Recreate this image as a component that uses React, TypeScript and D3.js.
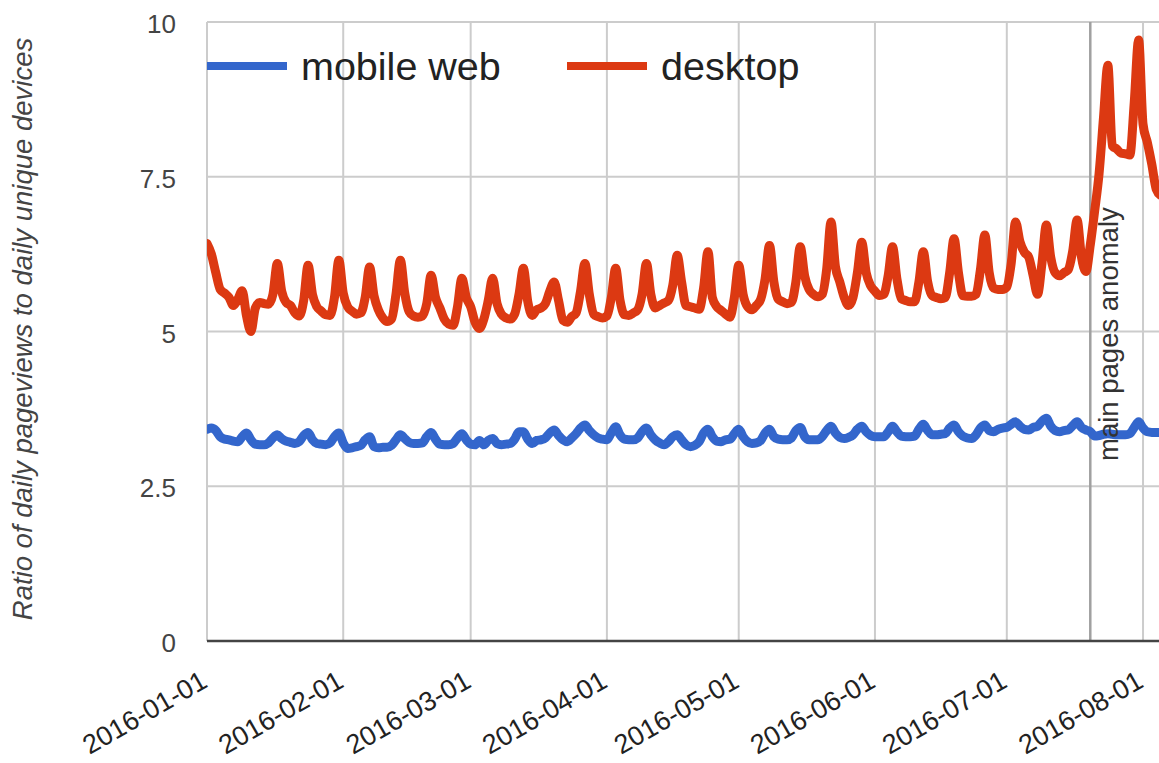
import React from "react";
import * as d3 from "d3";

// daily ratio of pageviews to unique devices, 2016-01-01 .. 2016-08-05
const startDay = Date.UTC(2016, 0, 1);

const mobileWeb = [
  3.42, 3.44, 3.40, 3.30, 3.26, 3.25, 3.23, 3.22, 3.30, 3.36, 3.25, 3.18, 3.17, 3.17,
  3.20, 3.28, 3.33, 3.27, 3.23, 3.21, 3.19, 3.22, 3.32, 3.37, 3.25, 3.19, 3.18, 3.17,
  3.20, 3.30, 3.36, 3.20, 3.11, 3.12, 3.14, 3.16, 3.25, 3.30, 3.14, 3.12, 3.13, 3.13,
  3.16, 3.25, 3.33, 3.27, 3.21, 3.19, 3.19, 3.20, 3.30, 3.37, 3.26, 3.18, 3.17, 3.17,
  3.19, 3.28, 3.35, 3.25, 3.18, 3.17, 3.24, 3.17, 3.24, 3.27, 3.19, 3.17, 3.18, 3.19,
  3.26, 3.38, 3.38, 3.26, 3.19, 3.24, 3.25, 3.28, 3.36, 3.41, 3.32, 3.25, 3.22, 3.28,
  3.35, 3.44, 3.49, 3.40, 3.33, 3.28, 3.26, 3.25, 3.36, 3.46, 3.33, 3.26, 3.25, 3.25,
  3.28, 3.38, 3.44, 3.33, 3.25, 3.20, 3.17, 3.22, 3.30, 3.33, 3.25, 3.17, 3.14, 3.16,
  3.22, 3.36, 3.42, 3.30, 3.23, 3.22, 3.25, 3.26, 3.35, 3.42, 3.30, 3.22, 3.19, 3.20,
  3.24, 3.36, 3.42, 3.30, 3.26, 3.25, 3.25, 3.28, 3.40, 3.45, 3.30, 3.25, 3.25, 3.25,
  3.30, 3.40, 3.47, 3.36, 3.29, 3.27, 3.29, 3.33, 3.42, 3.47, 3.38, 3.32, 3.30, 3.30,
  3.30, 3.38, 3.47, 3.38, 3.31, 3.30, 3.30, 3.31, 3.42, 3.50, 3.40, 3.33, 3.33, 3.34,
  3.35, 3.44, 3.49, 3.38, 3.31, 3.28, 3.27, 3.33, 3.44, 3.49, 3.40, 3.38, 3.42, 3.44,
  3.45, 3.50, 3.54, 3.47, 3.42, 3.41, 3.45, 3.47, 3.55, 3.60, 3.47, 3.40, 3.38, 3.40,
  3.41, 3.48, 3.54, 3.45, 3.41, 3.38, 3.31, 3.32, 3.34, 3.35, 3.34, 3.33, 3.33, 3.33,
  3.35, 3.45, 3.54, 3.44, 3.38, 3.37, 3.37, 3.37,
];

const desktop = [
  6.42, 6.25, 5.95, 5.68, 5.62, 5.55, 5.42, 5.52, 5.66, 5.25, 5.00, 5.38, 5.47, 5.45,
  5.44, 5.60, 6.10, 5.65, 5.47, 5.42, 5.30, 5.25, 5.50, 6.07, 5.60, 5.40, 5.33, 5.27,
  5.26, 5.55, 6.15, 5.62, 5.40, 5.33, 5.28, 5.30, 5.55, 6.04, 5.58, 5.35, 5.22, 5.16,
  5.20, 5.60, 6.15, 5.62, 5.32, 5.25, 5.23, 5.25, 5.45, 5.91, 5.55, 5.38, 5.20, 5.12,
  5.10, 5.40, 5.86, 5.55, 5.40, 5.15, 5.05, 5.20, 5.50, 5.86, 5.45, 5.28, 5.22, 5.20,
  5.28, 5.60, 6.02, 5.48, 5.26, 5.35, 5.38, 5.45, 5.65, 5.80, 5.50, 5.18, 5.15, 5.24,
  5.30, 5.65, 6.10, 5.60, 5.28, 5.24, 5.22, 5.25, 5.55, 6.02, 5.50, 5.27, 5.26, 5.30,
  5.35, 5.60, 6.10, 5.60, 5.38, 5.42, 5.46, 5.50, 5.75, 6.23, 5.80, 5.42, 5.40, 5.38,
  5.36, 5.70, 6.29, 5.55, 5.40, 5.34, 5.28, 5.23, 5.55, 6.07, 5.60, 5.40, 5.35, 5.42,
  5.52, 5.85, 6.39, 5.80, 5.52, 5.48, 5.45, 5.47, 5.80, 6.37, 5.90, 5.68, 5.60, 5.56,
  5.60, 6.00, 6.77, 6.05, 5.80, 5.55, 5.42, 5.55, 5.95, 6.44, 5.95, 5.74, 5.65, 5.58,
  5.60, 5.90, 6.37, 5.85, 5.53, 5.50, 5.48, 5.48, 5.80, 6.29, 5.80, 5.58, 5.55, 5.53,
  5.55, 5.95, 6.50, 5.95, 5.58, 5.57, 5.57, 5.60, 6.00, 6.56, 5.95, 5.70, 5.68, 5.68,
  5.72, 6.10, 6.77, 6.45, 6.28, 6.20, 5.90, 5.60, 6.10, 6.72, 6.20, 5.95, 5.90, 5.95,
  6.00, 6.30, 6.80, 6.20, 5.97, 6.40, 6.95, 7.55, 8.45, 9.30, 8.00, 7.95, 7.88, 7.87,
  7.85, 8.70, 9.71, 8.35, 8.05, 7.70, 7.30, 7.20,
];

const yTicks = [0, 2.5, 5, 7.5, 10];
const monthTicks = [
  "2016-01-01", "2016-02-01", "2016-03-01", "2016-04-01",
  "2016-05-01", "2016-06-01", "2016-07-01", "2016-08-01",
];
const seriesNames = ["mobile web", "desktop"];
const seriesColors = ["#3366cc", "#dc3912"];
const annotationDate = "2016-07-20";
const annotationText = "main pages anomaly";
const yTitle = "Ratio of daily pageviews to daily unique devices";

const W = 1159;
const H = 763;
const font = "'Liberation Sans', Arial, sans-serif";

const parse = (s: string) => new Date(s + "T00:00:00Z");
const dayDate = (i: number) => new Date(startDay + i * 86400000);

export default function App() {
  const x = d3
    .scaleUtc()
    .domain([new Date(startDay), parse("2016-08-05")])
    .range([207, 1160.6]);
  const y = d3.scaleLinear().domain([0, 10]).range([641, 22]);

  const line = d3
    .line<number>()
    .x((_, i) => x(dayDate(i)))
    .y((d) => y(d))
    .curve(d3.curveMonotoneX);

  const series = [mobileWeb, desktop];
  const annX = x(parse(annotationDate));

  return (
    <svg
      width={W}
      height={H}
      style={{ position: "absolute", left: 0, top: 0, background: "#fff" }}
      fontFamily={font}
    >
      <defs>
        <clipPath id="plot">
          <rect x={207} y={0} width={W - 207} height={645} />
        </clipPath>
      </defs>
      <rect width={W} height={H} fill="#fff" />

      {/* grid */}
      {yTicks.map((t) => (
        <line key={"h" + t} x1={207} x2={W} y1={y(t)} y2={y(t)} stroke="#cccccc" strokeWidth={2} />
      ))}
      {monthTicks.map((m) => (
        <line key={"v" + m} x1={x(parse(m))} x2={x(parse(m))} y1={y(10)} y2={y(0)} stroke="#cccccc" strokeWidth={2} />
      ))}

      {/* annotation line */}
      <line x1={annX} x2={annX} y1={y(10)} y2={y(0)} stroke="#a0a0a0" strokeWidth={2.5} />

      {/* series */}
      <g clipPath="url(#plot)">
        {series.map((s, k) => (
          <path
            key={seriesNames[k]}
            d={line(s) ?? ""}
            fill="none"
            stroke={seriesColors[k]}
            strokeWidth={9}
            strokeLinejoin="round"
            strokeLinecap="round"
          />
        ))}
      </g>

      {/* baseline */}
      <line x1={207} x2={W} y1={y(0)} y2={y(0)} stroke="#444444" strokeWidth={2.5} />

      {/* annotation text */}
      <text
        transform={`translate(1118, 461) rotate(-90)`}
        fontSize={27.5}
        fill="#333333"
      >
        {annotationText}
      </text>

      {/* y tick labels */}
      {yTicks.map((t) => (
        <text key={"yl" + t} x={176} y={y(t) + 11} textAnchor="end" fontSize={26} fill="#444444">
          {String(t)}
        </text>
      ))}

      {/* x tick labels */}
      {monthTicks.map((m) => (
        <text
          key={"xl" + m}
          transform={`translate(${x(parse(m)) + 2}, 686) rotate(-30)`}
          textAnchor="end"
          fontSize={27}
          fill="#222222"
        >
          {m}
        </text>
      ))}

      {/* y title */}
      <text
        transform={`translate(32, 329) rotate(-90)`}
        textAnchor="middle"
        fontSize={27.5}
        fontStyle="italic"
        fill="#444444"
      >
        {yTitle}
      </text>

      {/* legend */}
      {seriesNames.map((name, k) => {
        const lx = k === 0 ? 207 : 567;
        return (
          <g key={"lg" + name}>
            <line x1={lx} x2={lx + 80} y1={66} y2={66} stroke={seriesColors[k]} strokeWidth={8} />
            <text x={lx + 94} y={80} fontSize={39.5} fill="#222222">
              {name}
            </text>
          </g>
        );
      })}
    </svg>
  );
}
